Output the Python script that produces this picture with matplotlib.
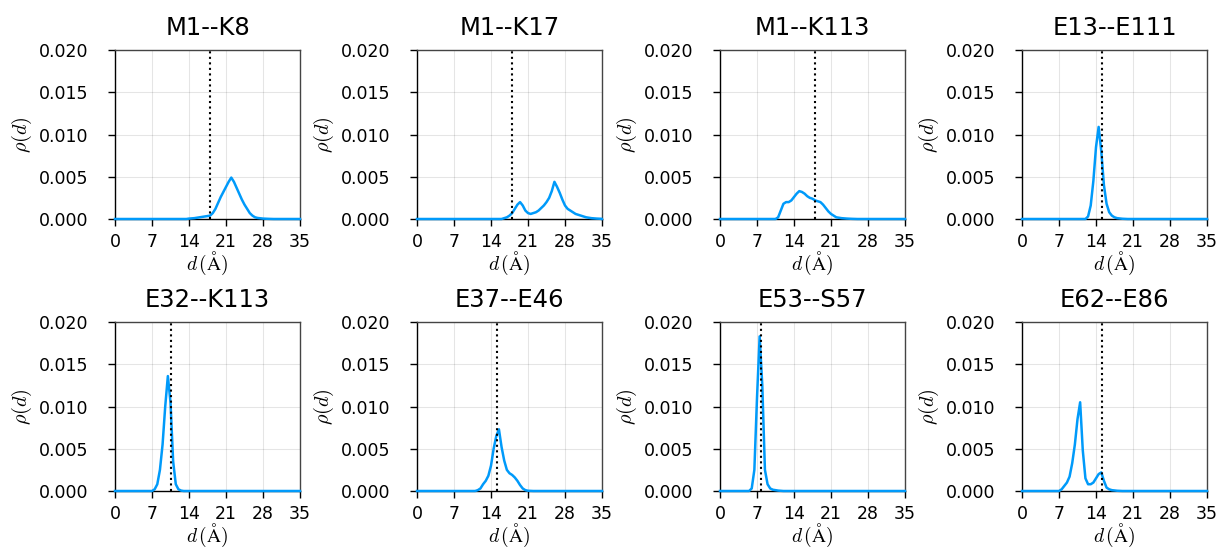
import numpy as np
import matplotlib
matplotlib.use("Agg")
import matplotlib.pyplot as plt

plt.rcParams['mathtext.fontset'] = 'cm'
plt.rcParams['font.family'] = ['DejaVu Sans']

# pair names and reference distance (dotted line), in Angstrom
titles = ['M1--K8', 'M1--K17', 'M1--K113', 'E13--E111',
          'E32--K113', 'E37--E46', 'E53--S57', 'E62--E86']
ref_dist = [18.0, 18.0, 18.0, 15.2, 10.5, 15.2, 7.7, 15.2]

# density values (d in Angstrom, rho)
m1_k8_d = [13.5, 14, 15, 16, 17, 18, 18.5, 19, 19.5, 20, 20.5, 21, 21.5, 22, 22.5,
           23, 23.5, 24, 24.5, 25, 25.5, 26, 26.5, 27, 28, 29, 30]
m1_k8_rho = [0, 0.00005, 0.0001, 0.0002, 0.0003, 0.0004, 0.0007, 0.0012, 0.0019, 0.0026,
             0.0032, 0.0038, 0.0044, 0.0049, 0.0044, 0.0037, 0.0030, 0.0023, 0.0017,
             0.0012, 0.0007, 0.0004, 0.0002, 0.00012, 0.00005, 0.00002, 0]

m1_k17_d = [16, 16.5, 17, 17.5, 18, 18.5, 19, 19.5, 20, 20.5, 21, 21.5, 22, 22.5, 23,
            23.5, 24, 24.5, 25, 25.5, 26, 26.5, 27, 27.5, 28, 28.5, 29, 29.5, 30, 30.5,
            31, 32, 33, 34, 35]
m1_k17_rho = [0, 0.0001, 0.0002, 0.0004, 0.0007, 0.0012, 0.0017, 0.0020, 0.0016, 0.0010,
              0.0007, 0.0006, 0.0007, 0.0008, 0.0010, 0.0013, 0.0016, 0.0020, 0.0025,
              0.0033, 0.0044, 0.0038, 0.0031, 0.0023, 0.0016, 0.0012, 0.0010, 0.0008,
              0.0006, 0.0005, 0.0004, 0.0002, 0.0001, 0.00005, 0.00002]

m1_k113_d = [10.5, 11, 11.5, 12, 12.5, 13, 13.5, 14, 14.5, 15, 15.5, 16, 16.5, 17, 17.5,
             18, 18.5, 19, 19.5, 20, 20.5, 21, 21.5, 22, 23, 24, 25, 26]
m1_k113_rho = [0, 0.0002, 0.0010, 0.0018, 0.0020, 0.0020, 0.0022, 0.0026, 0.0030, 0.0033,
               0.0032, 0.0030, 0.0027, 0.0025, 0.0024, 0.0022, 0.0021, 0.0020, 0.0017,
               0.0013, 0.0009, 0.0006, 0.0004, 0.0002, 0.0001, 0.00005, 0.00002, 0]

e13_e111_d = [12, 12.5, 13, 13.5, 14, 14.5, 15, 15.5, 16, 16.5, 17, 17.5, 18, 19, 20]
e13_e111_rho = [0, 0.0003, 0.0016, 0.0045, 0.0085, 0.0109, 0.0080, 0.0040, 0.0018,
                0.0008, 0.0004, 0.0002, 0.0001, 0.00003, 0]

e32_k113_d = [7, 7.5, 8, 8.5, 9, 9.5, 10, 10.5, 11, 11.5, 12, 12.5, 13]
e32_k113_rho = [0, 0.0002, 0.0008, 0.0025, 0.0055, 0.0100, 0.0136, 0.0105, 0.0035,
                0.0008, 0.0002, 0.00005, 0]

e37_e46_d = [11, 11.5, 12, 12.5, 13, 13.5, 14, 14.5, 15, 15.5, 16, 16.5, 17, 17.5, 18,
             18.5, 19, 19.5, 20, 20.5, 21, 22]
e37_e46_rho = [0, 0.0001, 0.0003, 0.0008, 0.0012, 0.0018, 0.0030, 0.0050, 0.0065, 0.0073,
               0.0052, 0.0036, 0.0025, 0.0021, 0.0019, 0.0016, 0.0012, 0.0007, 0.0003,
               0.0001, 0.00003, 0]

e53_s57_d = [5.5, 6, 6.5, 7, 7.5, 8, 8.5, 9, 9.5, 10, 11, 12]
e53_s57_rho = [0, 0.0003, 0.0025, 0.0110, 0.0183, 0.0125, 0.0025, 0.0008, 0.0003,
               0.00015, 0.00005, 0]

e62_e86_d = [7, 7.5, 8, 8.5, 9, 9.5, 10, 10.5, 11, 11.5, 12, 12.5, 13, 13.5, 14, 14.5,
             15, 15.5, 16, 16.5, 17, 18, 19]
e62_e86_rho = [0, 0.0002, 0.0006, 0.0010, 0.0017, 0.0033, 0.0055, 0.0085, 0.0105, 0.0048,
               0.0015, 0.0008, 0.0008, 0.0010, 0.0015, 0.0020, 0.0022, 0.0012, 0.0004,
               0.0002, 0.0001, 0.00003, 0]

curves = [(m1_k8_d, m1_k8_rho), (m1_k17_d, m1_k17_rho), (m1_k113_d, m1_k113_rho),
          (e13_e111_d, e13_e111_rho), (e32_k113_d, e32_k113_rho), (e37_e46_d, e37_e46_rho),
          (e53_s57_d, e53_s57_rho), (e62_e86_d, e62_e86_rho)]

x_ticks = [0, 7, 14, 21, 28, 35]
y_ticks = [0.0, 0.005, 0.010, 0.015, 0.020]

fig = plt.figure(figsize=(12.2, 5.47), dpi=100)
W, H = 1220, 547
lefts = [115, 417, 720, 1022]
tops = [50, 322]
aw, ah = 185, 169

for k, (title, (d, rho)) in enumerate(zip(titles, curves)):
    r, c = divmod(k, 4)
    ax = fig.add_axes([lefts[c] / W, 1 - (tops[r] + ah) / H, aw / W, ah / H])

    # pad with zeros over the full range
    dd = np.concatenate([[0], d, [35]])
    rr = np.concatenate([[0], rho, [0]])
    ax.plot(dd, rr, color='#009AFA', lw=1.8, zorder=3, clip_on=False)
    ax.axvline(ref_dist[k], ymin=0, ymax=1, color='black', ls=':', lw=1.5, zorder=4)

    ax.set_xlim(0, 35)
    ax.set_ylim(0, 0.02)
    ax.set_xticks(x_ticks)
    ax.set_yticks(y_ticks)
    ax.set_yticklabels(['%.3f' % v for v in y_ticks])
    ax.tick_params(labelsize=12.5, direction='out', length=5, width=1,
                   top=False, right=False)
    ax.tick_params(axis='y', pad=14)
    ax.tick_params(axis='x', pad=5)
    ax.grid(True, color='black', alpha=0.1, lw=0.8)
    ax.set_axisbelow(True)
    for side in ['top', 'right']:
        ax.spines[side].set_color('#444444')
    for side in ['left', 'bottom']:
        ax.spines[side].set_color('black')
    for s in ax.spines.values():
        s.set_linewidth(1.0)

    ax.set_title(title, fontsize=17.5, pad=11)
    ax.set_xlabel(r'$d\,(\mathrm{\AA})$', fontsize=14, labelpad=-1)
    ax.set_ylabel(r'$\rho(d)$', fontsize=14.5, labelpad=4)

fig.savefig('out.png', dpi=100)
